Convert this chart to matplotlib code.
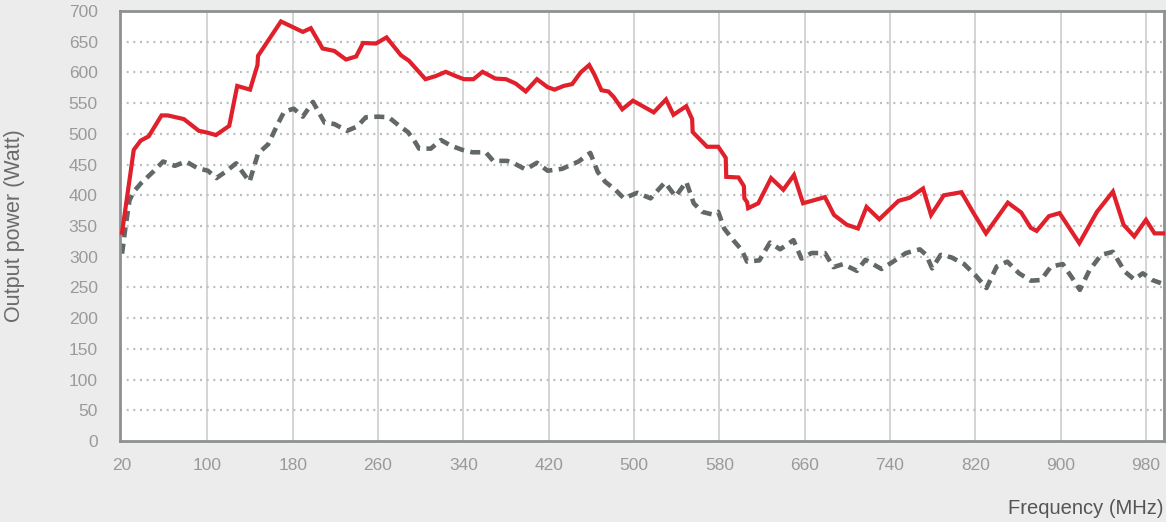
import matplotlib
matplotlib.use("Agg")
import matplotlib.pyplot as plt

plt.rcParams['font.family'] = ['Liberation Sans', 'DejaVu Sans']

# ---- data ----
x_ticks = [20, 100, 180, 260, 340, 420, 500, 580, 660, 740, 820, 900, 980]
y_ticks = [0, 50, 100, 150, 200, 250, 300, 350, 400, 450, 500, 550, 600, 650, 700]

red_freq = [20, 31, 37.5, 45, 57, 63, 78, 92, 100, 108, 120.5, 128, 140, 147, 147.5,
            169, 189.5, 197, 208, 219, 230, 239.5, 246, 258, 268, 281.5, 289, 304.5,
            314, 323.5, 333, 340.5, 349.5, 358, 370, 380, 389, 398.5, 409, 419, 425.5,
            434, 442, 450, 458, 463, 469.5, 476, 481, 489, 499, 518.5, 530, 537, 549,
            554.5, 555, 568.5, 579, 586, 586.5, 598, 603, 603.5, 606, 607, 616.5, 628.5,
            640, 650, 658.5, 679, 687.5, 699.5, 710, 718, 730, 748, 758.5, 771, 778.5,
            790.5, 807, 818, 830, 850.5, 863, 872, 877.5, 889, 899, 917.5, 934, 949,
            959, 969, 980, 988, 996]
red_power = [339, 474, 489, 496, 530, 530, 524, 505, 502, 498, 513, 578, 572, 612, 627,
             683, 666, 672, 639, 635, 621, 626, 648, 647, 657, 628, 619, 589,
             594, 601, 594, 589, 589, 601, 590, 589, 582, 569, 589, 576, 572,
             578, 581, 600, 612, 596, 571, 569, 560, 540, 554, 535, 556, 531, 545,
             524, 503, 479, 479, 461, 430, 429, 415, 395, 389, 379, 387, 428,
             409, 433, 387, 397, 368, 352, 346, 381, 361, 391, 396, 411, 368,
             400, 405, 372, 338, 388, 372, 347, 342, 366, 371, 322, 373, 406,
             352, 333, 360, 338, 338]

gray_freq = [20, 23, 27, 31, 38, 49, 58.5, 69.5, 80, 91, 100.5, 108.5, 116, 127, 139.5,
             147.5, 157, 166, 172, 181, 189.5, 199, 210, 219, 231, 240.5, 248.5, 260,
             270, 280, 288, 294, 298.5, 309.5, 319, 328, 339, 348.5, 361, 368, 381,
             387.5, 398.5, 409, 419, 432.5, 448, 459, 466, 473, 482.5, 490.5, 503,
             515.5, 529, 539, 549, 556, 564, 573, 579, 584.5, 593, 601, 606, 617.5,
             627.5, 637, 649.5, 657, 666.5, 679, 687, 696, 709, 717, 732, 743, 755,
             768, 774, 779.5, 787.5, 797.5, 809.5, 820, 830.5, 840, 850, 861, 872,
             881.5, 891, 902, 911, 918, 927, 938, 949, 960, 969, 977, 986, 994]
gray_power = [305, 345, 392, 406, 420, 438, 455, 448, 455, 444, 440, 428, 437, 452, 422,
              468, 483, 516, 536, 541, 528, 552, 518, 516, 505, 512, 527, 528,
              527, 513, 503, 489, 476, 476, 490, 481, 474, 470, 470, 456, 456,
              452, 442, 453, 440, 443, 455, 469, 438, 422, 409, 395, 404,
              395, 421, 398, 422, 387, 373, 369, 373, 346, 327, 311, 292, 294,
              323, 312, 327, 297, 306, 306, 283, 288, 277, 295, 280, 292, 306,
              312, 303, 281, 303, 299, 288, 270, 249, 284, 292, 273, 261,
              262, 284, 288, 265, 246, 278, 303, 308, 276, 263, 273, 262, 257]

# ---- figure ----
W, H = 1166, 522
fig = plt.figure(figsize=(W / 100, H / 100), dpi=100)
fig.patch.set_facecolor('#ececec')
ax = fig.add_axes([120 / W, 81 / H, 1044 / W, 430 / H])
ax.set_facecolor('white')
ax.set_xlim(18.1, 996.9)
ax.set_ylim(0, 700)

ax.set_xticks(x_ticks)
ax.set_yticks(y_ticks)
ax.set_xticklabels([str(v) for v in x_ticks])
ax.set_yticklabels([str(v) for v in y_ticks])
ax.tick_params(length=0, labelsize=12.5, labelcolor='#9a9a9a')
ax.tick_params(axis='y', pad=16)
ax.tick_params(axis='x', pad=12)

ax.xaxis.grid(True, color='#c9c9c9', linewidth=1.1, linestyle='-')
ax.yaxis.grid(True, color='#bdbdbd', linewidth=1.6, linestyle=(0, (0.9, 2.1)))
ax.set_axisbelow(True)
ax.get_xgridlines()[0].set_visible(False)
ax.get_ygridlines()[0].set_visible(False)
ax.get_ygridlines()[-1].set_visible(False)

for s in ax.spines.values():
    s.set_color('#8d9191')
    s.set_linewidth(2.0)

ax.plot(red_freq, red_power, color='#e0202b', linewidth=3.0, solid_joinstyle='miter',
        zorder=3, clip_on=False)
ax.plot(gray_freq, gray_power, color='#626868', linewidth=3.3, linestyle=(0, (2.2, 1.4)),
        dash_capstyle='butt', zorder=2, clip_on=False)

fig.text(15 / W, 1 - 226 / H, 'Output power (Watt)', rotation=90, ha='center', va='center',
         fontsize=15.5, color='#6a6a6a')
fig.text(1164 / W, 1 - 508 / H, 'Frequency (MHz)', ha='right', va='center',
         fontsize=14.5, color='#555555')

fig.savefig('out.png', dpi=100, facecolor=fig.get_facecolor())
